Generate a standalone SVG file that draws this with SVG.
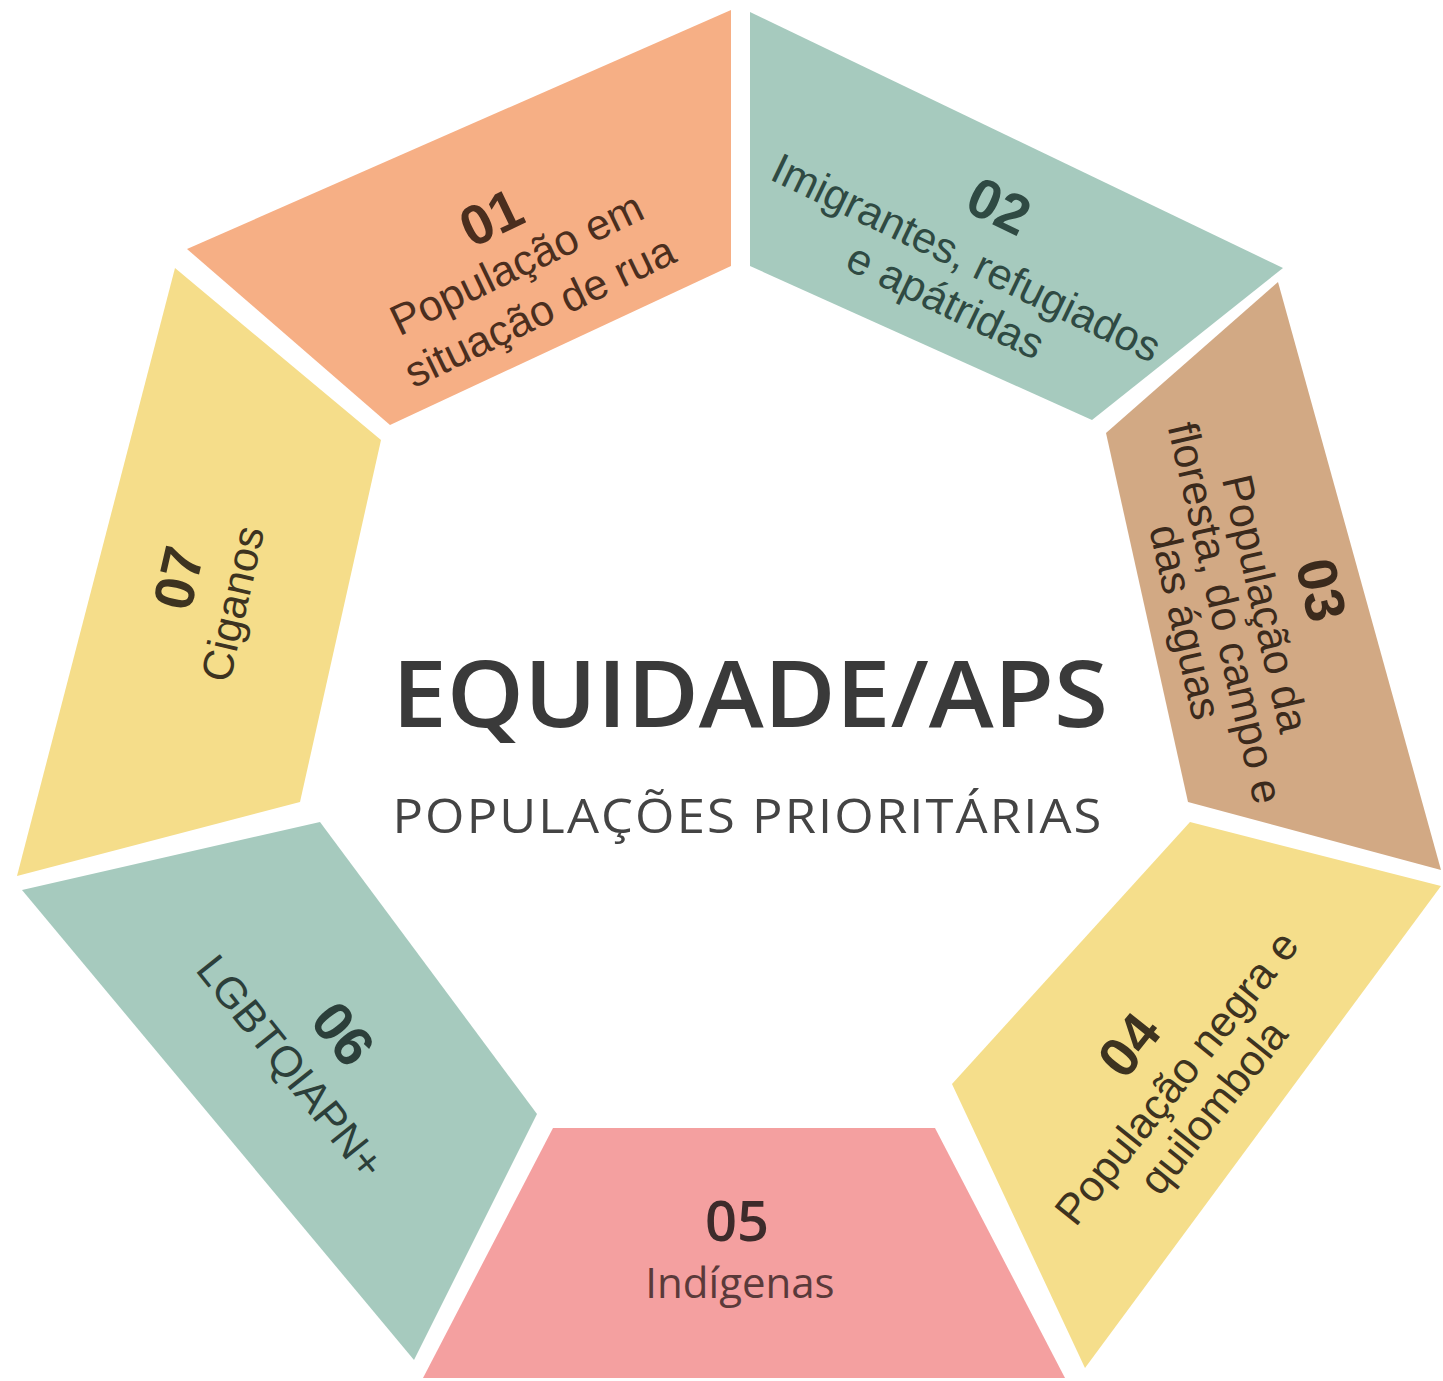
<svg xmlns="http://www.w3.org/2000/svg" width="1443" height="1381" viewBox="0 0 1443 1381">
<style>
.num{font-family:"Liberation Sans",Arial,sans-serif;font-weight:bold;font-size:56px;text-anchor:middle}
.lbl{font-family:"Liberation Sans",Arial,sans-serif;font-size:43px;text-anchor:middle}
.num5{font-family:"Open Sans","Noto Sans",sans-serif;font-weight:600;font-size:56px;text-anchor:middle}
.lbl5{font-family:"Open Sans","Noto Sans",sans-serif;font-size:42px;text-anchor:middle}
.title{font-family:"Open Sans","Noto Sans",sans-serif;font-weight:600;font-size:92px;fill:#3a3a3a;text-anchor:middle}
.sub{font-family:"Open Sans","Noto Sans",sans-serif;font-weight:500;font-size:48px;fill:#444444;text-anchor:middle;letter-spacing:2px}
</style>
<rect width="1443" height="1381" fill="#ffffff"/>
<g id="seg01">
<polygon points="731,10 187,249 390,425 731,266" fill="#F6AF85"/>
<g transform="translate(523,277) rotate(-25.7)" fill="#4b2e1e">
<text class="num" x="-3" y="-48">01</text>
<text class="lbl" y="0">População em</text>
<text class="lbl" y="53">situação de rua</text>
</g>
</g>
<g id="seg02">
<polygon points="750,12 1283,268 1092,420 750,266" fill="#A6CABE"/>
<g transform="translate(960,271) rotate(25.7)" fill="#2f4a43">
<text class="num" x="7" y="-56">02</text>
<text class="lbl" y="0">Imigrantes, refugiados</text>
<text class="lbl" y="48">e apátridas</text>
</g>
</g>
<g id="seg03">
<polygon points="1278,282 1441,870 1188,802 1106,433" fill="#D2A984"/>
<g transform="translate(1251,607) rotate(77.1)" fill="#3b2a1c">
<text class="num" x="-1" y="-53">03</text>
<text class="lbl" y="0">População da</text>
<text class="lbl" y="41">floresta, do campo e</text>
<text class="lbl" y="82">das águas</text>
</g>
</g>
<g id="seg04">
<polygon points="1190,822 1441,886 1085,1368 952,1084" fill="#F5DE8B"/>
<g transform="translate(1188,1087) rotate(-51.4)" fill="#3d3320">
<text class="num" x="-4" y="-53">04</text>
<text class="lbl" y="0">População negra e</text>
<text class="lbl" y="47">quilombola</text>
</g>
</g>
<g id="seg05">
<polygon points="553,1128 935,1128 1065,1378 423,1378" fill="#F4A0A0"/>
<text class="num5" x="737" y="1241" fill="#3d2b2b">05</text>
<text class="lbl5" x="740" y="1298" fill="#5a3a3a">Indígenas</text>
</g>
<g id="seg06">
<polygon points="22,890 320,822 537,1114 414,1360" fill="#A6CABE"/>
<g transform="translate(279,1076) rotate(51.4)" fill="#2c3f3a">
<text class="num" x="7" y="-57">06</text>
<text class="lbl" y="0">LGBTQIAPN+</text>
</g>
</g>
<g id="seg07">
<polygon points="175,268 381,440 300,802 17,876" fill="#F5DD8A"/>
<g transform="translate(247,607) rotate(-77.1)" fill="#3d3320">
<text class="num" x="13" y="-54">07</text>
<text class="lbl" y="0">Ciganos</text>
</g>
</g>
<g id="center">
<text class="title" x="750" y="727" textLength="716" lengthAdjust="spacingAndGlyphs">EQUIDADE/APS</text>
<text class="sub" x="748" y="833" textLength="711" lengthAdjust="spacingAndGlyphs">POPULAÇÕES PRIORITÁRIAS</text>
</g>
<g id="connectors"></g>
</svg>
